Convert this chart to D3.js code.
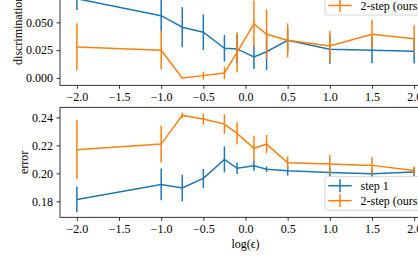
<!DOCTYPE html>
<html>
<head>
<meta charset="utf-8">
<script src="https://cdn.jsdelivr.net/npm/d3@7"></script>
<style>
  body { margin: 0; background: #fff; }
  svg { display: block; font-family: "Liberation Serif", "DejaVu Serif", serif; }
</style>
</head>
<body>
<svg id="chart" width="418" height="258"></svg>
<script>
// log(eps) values on the x axis
var eps = [-2, -1, -0.75, -0.5, -0.25, -0.1, 0.1, 0.25, 0.5, 1, 1.5, 2];

// top panel: discrimination
var discStep1    = [0.0712, 0.056, 0.0456, 0.0411, 0.0267, 0.0261, 0.0189, 0.0236, 0.0339, 0.0258, 0.0249, 0.024];
var discStep1Err = [0.0101, 0.014, 0.018, 0.016, 0.012, 0.013, 0.0108, 0.0165, 0.010, 0.013, 0.0117, 0.011];
var discStep2    = [0.0279, 0.0249, 0.0, 0.0021, 0.0045, 0.023, 0.0486, 0.0393, 0.0339, 0.0288, 0.0393, 0.0353];
var discStep2Err = [0.0212, 0.017, 0.0005, 0.0036, 0.0057, 0.018, 0.021, 0.022, 0.0153, 0.0135, 0.013, 0.012];

// bottom panel: error
var errStep1    = [0.1814, 0.1921, 0.1895, 0.1964, 0.21, 0.2036, 0.2055, 0.203, 0.2019, 0.2007, 0.1997, 0.2009];
var errStep1Err = [0.0092, 0.0113, 0.0095, 0.0068, 0.0093, 0.004, 0.0036, 0.002, 0.0036, 0.003, 0.003, 0.003];
var errStep2    = [0.2169, 0.2209, 0.2414, 0.2388, 0.2352, 0.2286, 0.2179, 0.2209, 0.2076, 0.2066, 0.2057, 0.2021];
var errStep2Err = [0.0212, 0.0131, 0.002, 0.004, 0.007, 0.008, 0.009, 0.0065, 0.0045, 0.0065, 0.006, 0.003];

var xTicks = [-2, -1.5, -1, -0.5, 0, 0.5, 1, 1.5, 2];
var discTicks = [0, 0.025, 0.05, 0.075];
var errTicks = [0.18, 0.20, 0.22, 0.24];
var seriesNames = ["step 1", "2-step (ours)"];
var colors = ["#1f77b4", "#ff7f0e"];

var svg = d3.select('#chart');
var left = 60, right = 431;
var fontSize = 12;
var x = d3.scaleLinear().domain([-2.2, 2.2]).range([left, right]);

function drawPanel(top, bottom, yDomain, yTicks, yFmt, s1, e1, s2, e2, ylabel, labelX, legendTop) {
  var y = d3.scaleLinear().domain(yDomain).range([bottom, top]);
  var g = svg.append('g');

  // frame
  g.append('rect')
    .attr('x', left).attr('y', top)
    .attr('width', right - left).attr('height', bottom - top)
    .attr('fill', 'none').attr('stroke', '#000').attr('stroke-width', 0.8);

  var xAxis = g.append('g')
    .attr('transform', 'translate(0,' + bottom + ')')
    .call(d3.axisBottom(x).tickValues(xTicks).tickFormat(d3.format('.1f'))
      .tickSize(3.5).tickPadding(3.5).tickSizeOuter(0));
  var yAxis = g.append('g')
    .attr('transform', 'translate(' + left + ',0)')
    .call(d3.axisLeft(y).tickValues(yTicks).tickFormat(d3.format(yFmt))
      .tickSize(3.5).tickPadding(3.5).tickSizeOuter(0));
  [xAxis, yAxis].forEach(a => {
    a.select('.domain').remove();
    a.selectAll('line').attr('stroke', '#000').attr('stroke-width', 0.8);
    a.selectAll('text').attr('font-size', fontSize).attr('fill', '#000')
      .attr('font-family', '"Liberation Serif", serif');
  });

  g.append('text')
    .attr('transform', 'translate(' + labelX + ',' + ((top + bottom) / 2) + ') rotate(-90)')
    .attr('text-anchor', 'middle')
    .attr('dominant-baseline', 'central')
    .attr('font-size', fontSize)
    .text(ylabel);

  var line = d3.line().x((d, i) => x(eps[i])).y(d => y(d));
  [[s1, e1], [s2, e2]].forEach((s, k) => {
    g.append('path')
      .datum(s[0])
      .attr('d', line)
      .attr('fill', 'none')
      .attr('stroke', colors[k])
      .attr('stroke-width', 1.5);
    g.selectAll('.eb' + k)
      .data(s[0])
      .enter()
      .append('line')
        .attr('class', 'eb' + k)
        .attr('x1', (d, i) => x(eps[i]))
        .attr('x2', (d, i) => x(eps[i]))
        .attr('y1', (d, i) => y(d - s[1][i]))
        .attr('y2', (d, i) => y(d + s[1][i]))
        .attr('stroke', colors[k])
        .attr('stroke-width', 1.5);
  });

  // legend
  var lg = g.append('g');
  lg.append('rect')
    .attr('x', 325).attr('y', legendTop)
    .attr('width', 102).attr('height', 33.5)
    .attr('rx', 2).attr('ry', 2)
    .attr('fill', '#fff').attr('fill-opacity', 0.8)
    .attr('stroke', '#ccc').attr('stroke-width', 0.8);
  seriesNames.forEach((name, k) => {
    var ry = legendTop + 9 + k * 15;
    lg.append('line').attr('x1', 328.3).attr('x2', 351.7).attr('y1', ry).attr('y2', ry)
      .attr('stroke', colors[k]).attr('stroke-width', 1.5);
    lg.append('line').attr('x1', 340).attr('x2', 340).attr('y1', ry - 6.5).attr('y2', ry + 6.5)
      .attr('stroke', colors[k]).attr('stroke-width', 1.5);
    lg.append('text').attr('x', 360.5).attr('y', ry)
      .attr('dominant-baseline', 'central')
      .attr('font-size', fontSize)
      .text(name);
  });
  return y;
}

drawPanel(-24.7, 85.3, [-0.0066, 0.0923], discTicks, '.3f',
  discStep1, discStep1Err, discStep2, discStep2Err, 'discrimination', 17.5, -18.5);
drawPanel(107.3, 217.3, [0.1686, 0.2472], errTicks, '.2f',
  errStep1, errStep1Err, errStep2, errStep2Err, 'error', 23.5, 176.7);

svg.append('text')
  .attr('x', x(0)).attr('y', 244)
  .attr('text-anchor', 'middle')
  .attr('dominant-baseline', 'central')
  .attr('font-size', fontSize)
  .text('log(ϵ)');
</script>
</body>
</html>
